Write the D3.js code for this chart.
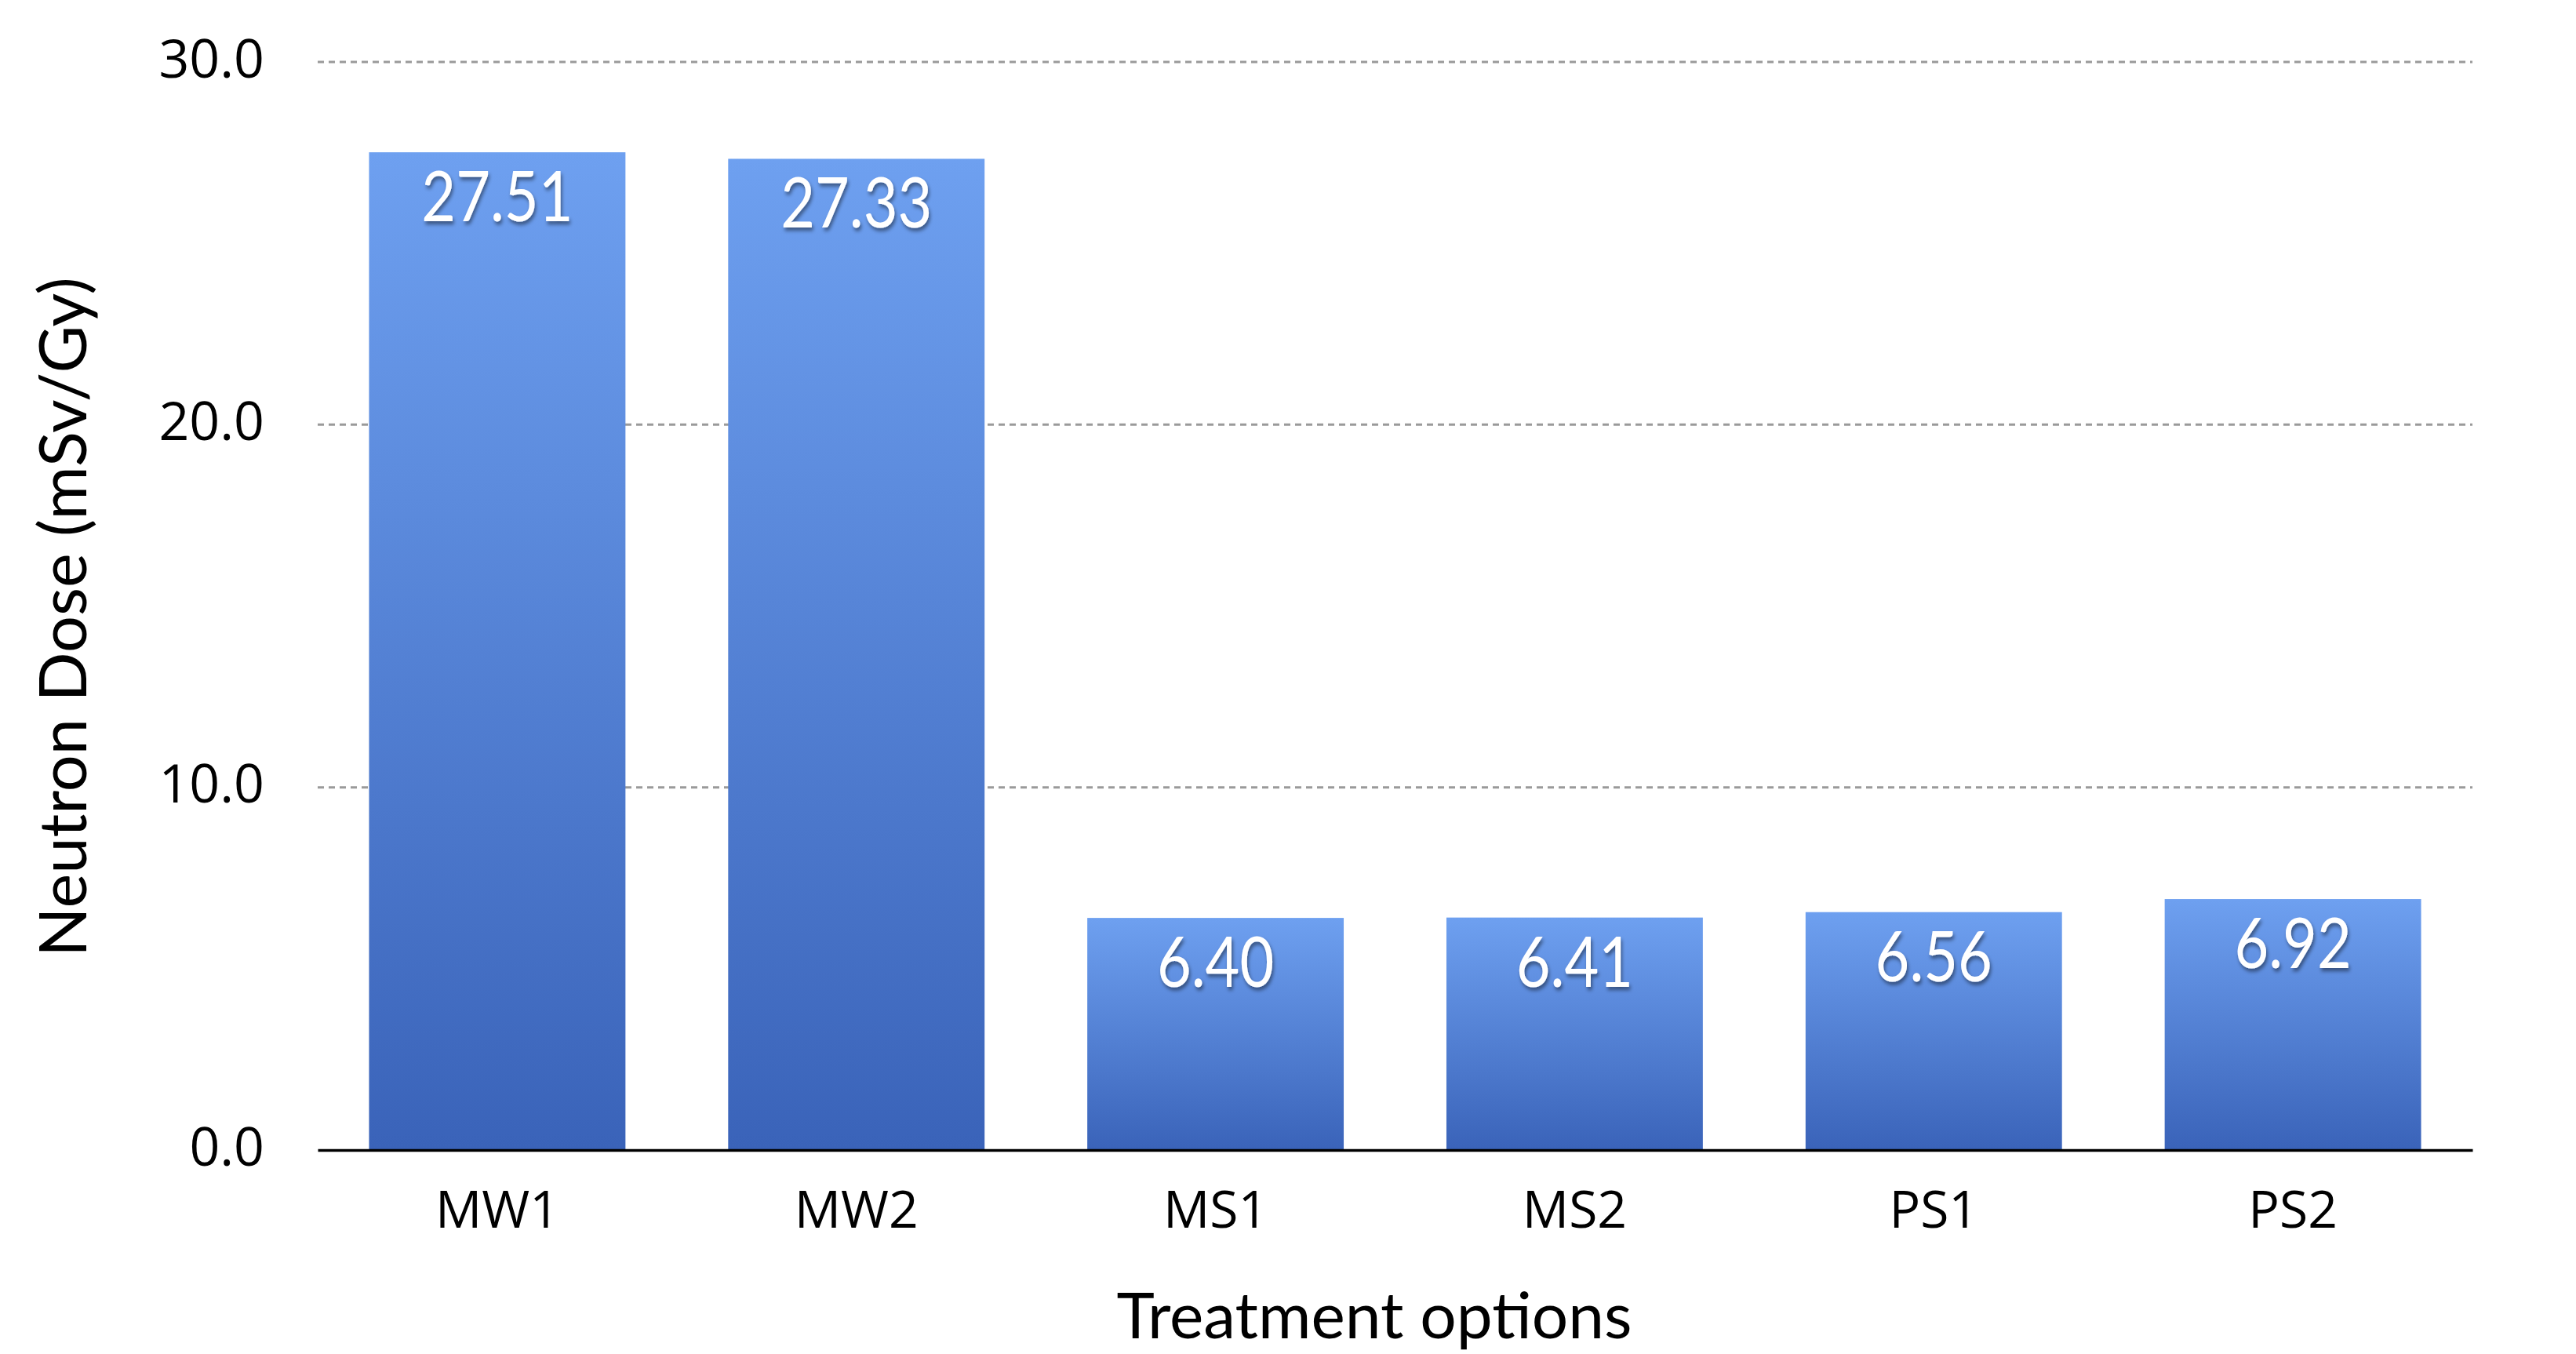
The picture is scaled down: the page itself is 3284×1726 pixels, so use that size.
<!DOCTYPE html>
<html>
<head>
<meta charset="utf-8">
<script src="https://cdn.jsdelivr.net/npm/d3@7"></script>
<style>
  html, body { margin: 0; padding: 0; background: #fff; }
  svg { display: block; }
</style>
</head>
<body>
<svg id="chart" width="3284" height="1726"></svg>
<script>
const categories = ["MW1", "MW2", "MS1", "MS2", "PS1", "PS2"];
const values = [27.51, 27.33, 6.40, 6.41, 6.56, 6.92];
const yTicks = [0, 10, 20, 30];
const yTitle = "Neutron Dose (mSv/Gy)";
const xTitle = "Treatment options";

const W = 3284, H = 1726;
const margin = { left: 405, right: W - 3152, top: 79, bottom: H - 1466 };

const svg = d3.select("#chart");
const defs = svg.append("defs");
const grad = defs.append("linearGradient")
  .attr("id", "barGrad").attr("x1", 0).attr("y1", 0).attr("x2", 0).attr("y2", 1);
grad.append("stop").attr("offset", "0%").attr("stop-color", "#6ea0f0");
grad.append("stop").attr("offset", "100%").attr("stop-color", "#3a63b9");

const shadow = defs.append("filter").attr("id", "txtShadow")
  .attr("x", "-20%").attr("y", "-20%").attr("width", "140%").attr("height", "150%");
shadow.append("feDropShadow").attr("dx", 2).attr("dy", 4).attr("stdDeviation", 2.5)
  .attr("flood-color", "#000").attr("flood-opacity", 0.45);

const x = d3.scaleBand()
  .domain(categories)
  .range([margin.left, W - margin.right])
  .paddingInner(0.286)
  .paddingOuter(0.143);

const y = d3.scaleLinear()
  .domain([0, 30])
  .range([H - margin.bottom, margin.top]);

// gridlines
svg.append("g")
  .selectAll("line")
  .data(yTicks.filter(d => d !== 0))
  .join("line")
  .attr("x1", margin.left).attr("x2", W - margin.right)
  .attr("y1", d => y(d)).attr("y2", d => y(d))
  .attr("stroke", "#9a9a9a").attr("stroke-width", 3)
  .attr("stroke-dasharray", "8,6");

// y axis labels
const yAxis = d3.axisLeft(y).tickValues(yTicks).tickFormat(d3.format(".1f")).tickSize(0).tickPadding(68);
const yg = svg.append("g").attr("transform", `translate(${margin.left},0)`).call(yAxis);
yg.select(".domain").remove();
yg.selectAll("text")
  .attr("font-family", "'Open Sans', sans-serif")
  .attr("font-size", 68)
  .attr("fill", "#000")
  .attr("dy", "0.28em");

// bars
svg.append("g")
  .selectAll("rect")
  .data(values)
  .join("rect")
  .attr("x", (d, i) => x(categories[i]))
  .attr("width", x.bandwidth())
  .attr("y", d => y(d))
  .attr("height", d => y(0) - y(d))
  .attr("fill", "url(#barGrad)");

// x axis
const xAxis = d3.axisBottom(x).tickSize(0).tickPadding(52);
const xg = svg.append("g").attr("transform", `translate(0,${y(0)})`).call(xAxis);
xg.select(".domain").attr("stroke", "#000").attr("stroke-width", 3.5);
xg.selectAll("text")
  .attr("font-family", "'Open Sans', sans-serif")
  .attr("font-size", 66)
  .attr("fill", "#000");

// value labels
svg.append("g")
  .selectAll("text")
  .data(values)
  .join("text")
  .attr("transform", (d, i) => `translate(${x(categories[i]) + x.bandwidth() / 2},${y(d) + 88}) scale(0.84,1)`)
  .attr("text-anchor", "middle")
  .attr("font-family", "Lato, sans-serif")
  .attr("font-weight", 400)
  .attr("font-size", 90)
  .attr("fill", "#fff")
  .attr("filter", "url(#txtShadow)")
  .text(d => d.toFixed(2));

// axis titles
svg.append("text")
  .attr("x", 1752)
  .attr("y", 1706)
  .attr("text-anchor", "middle")
  .attr("font-family", "Lato, sans-serif")
  .attr("font-size", 82)
  .attr("fill", "#000")
  .text(xTitle);

svg.append("text")
  .attr("transform", `translate(110, ${(y(0) + y(30)) / 2 + 14}) rotate(-90)`)
  .attr("text-anchor", "middle")
  .attr("font-family", "Lato, sans-serif")
  .attr("font-size", 83)
  .attr("fill", "#000")
  .text(yTitle);
</script>
</body>
</html>
